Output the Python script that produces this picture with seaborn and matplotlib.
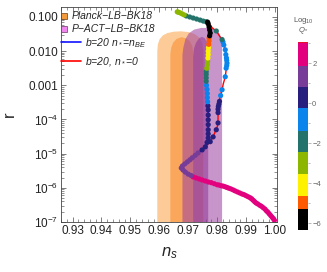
import numpy as np
import matplotlib
matplotlib.use("Agg")
import matplotlib.pyplot as plt
from matplotlib.colors import ListedColormap, BoundaryNorm
from matplotlib.lines import Line2D
import matplotlib.cm as cm
import seaborn as sns

# --- data ---
# contours: (n_s, log10 r) boundaries
planck2_ns = [0.9593, 0.9593, 0.9595, 0.9601, 0.9612, 0.9628, 0.9650, 0.9675, 0.9700, 0.9722, 0.9738, 0.9748, 0.9752, 0.9752]
planck2_lr = [-7.3, -2.00, -1.80, -1.65, -1.54, -1.47, -1.43, -1.42, -1.44, -1.50, -1.60, -1.75, -1.95, -7.3]
planck1_ns = [0.9638, 0.9638, 0.9641, 0.9648, 0.9660, 0.9677, 0.9694, 0.9706, 0.9714, 0.9717, 0.9717]
planck1_lr = [-7.3, -2.10, -1.90, -1.75, -1.64, -1.59, -1.63, -1.72, -1.85, -2.05, -7.3]
pact2_ns = [0.9680, 0.9680, 0.9683, 0.9690, 0.9702, 0.9720, 0.9745, 0.9770, 0.9790, 0.9805, 0.9814, 0.9817, 0.9817]
pact2_lr = [-7.3, -2.10, -1.90, -1.65, -1.48, -1.37, -1.32, -1.32, -1.36, -1.45, -1.60, -1.85, -7.3]
pact1_ns = [0.9717, 0.9717, 0.9720, 0.9727, 0.9737, 0.9747, 0.9757, 0.9764, 0.9768, 0.9769, 0.9769]
pact1_lr = [-7.3, -2.15, -1.92, -1.75, -1.63, -1.58, -1.62, -1.72, -1.88, -2.10, -7.3]

# b=20, n*=n_BE  (points along the curve, bottom to top)
be_ns = [0.9998, 0.9994, 0.9990, 0.9985, 0.9980, 0.9975, 0.9970, 0.9965, 0.9959, 0.9953,
         0.9947, 0.9940, 0.9934, 0.9929, 0.9924, 0.9919, 0.9914, 0.9907, 0.9900, 0.9893,
         0.9886, 0.9878, 0.9870, 0.9862, 0.9855, 0.9847, 0.9840, 0.9834, 0.9828, 0.9821,
         0.9814, 0.9807, 0.9800, 0.9790, 0.9780, 0.9770, 0.9759, 0.9748, 0.9738, 0.9727,
         0.9717, 0.9710, 0.9700, 0.9690, 0.9682, 0.9676, 0.9680, 0.9688, 0.9697, 0.9706,
         0.9714, 0.9724, 0.9734, 0.9748, 0.9759, 0.9765, 0.9769, 0.9769, 0.9769, 0.9769,
         0.9769, 0.9769, 0.9769, 0.9768, 0.9767, 0.9766, 0.9766, 0.9765, 0.9763, 0.9762,
         0.9762, 0.9762, 0.9762, 0.9764, 0.9766, 0.9767, 0.9768, 0.9769, 0.9769, 0.9770,
         0.9771, 0.9772, 0.9772, 0.9774, 0.9776, 0.9774, 0.9772, 0.9769, 0.9767]
be_lr = [-6.95, -6.90, -6.86, -6.81, -6.76, -6.71, -6.67, -6.62, -6.58, -6.54,
         -6.51, -6.47, -6.44, -6.40, -6.36, -6.32, -6.29, -6.26, -6.23, -6.20,
         -6.18, -6.15, -6.12, -6.09, -6.06, -6.03, -6.01, -5.99, -5.97, -5.95,
         -5.94, -5.92, -5.91, -5.88, -5.85, -5.83, -5.80, -5.77, -5.74, -5.71,
         -5.68, -5.64, -5.60, -5.54, -5.48, -5.42, -5.36, -5.30, -5.24, -5.18,
         -5.12, -5.05, -4.98, -4.89, -4.80, -4.67, -4.54, -4.42, -4.30, -4.15,
         -4.01, -3.87, -3.72, -3.60, -3.48, -3.36, -3.24, -3.12, -3.00, -2.88,
         -2.78, -2.68, -2.60, -2.50, -2.40, -2.30, -2.20, -2.10, -2.00, -1.90,
         -1.80, -1.70, -1.62, -1.55, -1.47, -1.38, -1.29, -1.20, -1.15]
be_logq = [2.96, 2.94, 2.92, 2.9, 2.87, 2.85, 2.82, 2.8, 2.77, 2.75,
           2.72, 2.7, 2.67, 2.65, 2.62, 2.6, 2.57, 2.55, 2.52, 2.5,
           2.47, 2.45, 2.42, 2.4, 2.37, 2.35, 2.32, 2.3, 2.27, 2.25,
           2.22, 2.2, 2.17, 2.15, 2.12, 2.1, 2.07, 2.05, 2.02, 2.0,
           1.96, 1.85, 1.75, 1.65, 1.55, 1.45, 1.35, 1.25, 1.1, 1.0,
           0.95, 0.9, 0.85, 0.75, 0.7, 0.6, 0.5, 0.42, 0.35, 0.22,
           0.12, 0.0, -0.1, -0.2, -0.35, -0.55, -0.75, -0.95, -1.2, -1.45,
           -1.75, -2.0, -2.3, -2.6, -2.9, -3.2, -3.65, -3.9, -4.15, -4.4,
           -4.75, -5.0, -5.2, -5.4, -5.6, -5.8, -6.0, -6.1, -6.2]

# b=20, n*=0  (line, bottom part shared with the curve above)
n0_line_ns = [0.9998, 0.9959, 0.9914, 0.9855, 0.9800, 0.9759, 0.9717, 0.9693, 0.9676, 0.9693,
              0.9714, 0.9734, 0.9759, 0.9776, 0.9786, 0.9793, 0.9800, 0.9803, 0.9803, 0.9803,
              0.9807, 0.9810, 0.9817, 0.9821, 0.9828, 0.9831, 0.9834, 0.9831, 0.9828, 0.9821,
              0.9810, 0.9797, 0.9783, 0.9776, 0.9766, 0.9741, 0.9717, 0.9693, 0.9672, 0.9662]
n0_line_lr = [-6.95, -6.58, -6.29, -6.06, -5.91, -5.80, -5.68, -5.56, -5.42, -5.27,
              -5.12, -4.98, -4.80, -4.65, -4.51, -4.36, -4.22, -4.10, -3.89, -3.66,
              -3.49, -3.34, -3.13, -2.96, -2.75, -2.55, -2.35, -2.14, -1.96, -1.76,
              -1.58, -1.41, -1.32, -1.23, -1.15, -1.09, -1.03, -0.97, -0.88, -0.85]
n0_pt_ns = [0.9776, 0.9786, 0.9797, 0.9803, 0.9803, 0.9803, 0.9804, 0.9806, 0.9808, 0.9812,
            0.9817, 0.9828, 0.9831, 0.9833, 0.9834, 0.9833, 0.9832, 0.9830, 0.9828, 0.9823,
            0.9820, 0.9817, 0.9797, 0.9762, 0.9752, 0.9741, 0.9729, 0.9717, 0.9705, 0.9693,
            0.9686, 0.9679, 0.9672, 0.9666, 0.9662]
n0_pt_lr = [-4.65, -4.51, -4.30, -4.10, -3.80, -3.70, -3.62, -3.55, -3.47, -3.30,
            -3.13, -2.75, -2.50, -2.42, -2.35, -2.27, -2.20, -2.10, -1.96, -1.82,
            -1.73, -1.66, -1.41, -1.14, -1.12, -1.09, -1.06, -1.03, -1.00, -0.97,
            -0.94, -0.91, -0.88, -0.86, -0.85]
n0_pt_logq = [0.6, 0.5, 0.35, 0.2, 0.0, -0.05, -0.1, -0.15, -0.2, -0.4,
              -0.6, -0.8, -0.9, -0.95, -1.0, -1.05, -1.1, -1.15, -1.2, -1.25,
              -1.3, -1.5, -1.7, -1.9, -1.95, -2.0, -2.05, -2.1, -2.2, -2.3,
              -2.6, -2.8, -3.0, -3.2, -3.3]

# colour bar for log10 Q*
q_bounds = [-6.35, -5.3, -4.63, -3.53, -2.47, -1.37, -0.25, 0.8, 1.88, 3.0, 3.06]
q_colors = ["#000000", "#FF5A00", "#FFF200", "#8DB600", "#23736B", "#0B85EC",
            "#281E7D", "#773C98", "#E2007E", "#E8102A"]
cbar_ticks = [2, 0, -2, -4, -6]
cbar_labels = ["2", "0", "\u22122", "\u22124", "\u22126"]

xticks = [0.93, 0.94, 0.95, 0.96, 0.97, 0.98, 0.99, 1.00]
xtick_labels = ["0.93", "0.94", "0.95", "0.96", "0.97", "0.98", "0.99", "1.00"]
yticks = [1e-7, 1e-6, 1e-5, 1e-4, 1e-3, 1e-2, 1e-1]
ytick_labels = ["$10^{-7}$", "$10^{-6}$", "$10^{-5}$", "$10^{-4}$", "0.001", "0.010", "0.100"]

# --- style ---
sns.set_style("ticks")
plt.rcParams['font.family'] = ['Liberation Sans', 'DejaVu Sans']
plt.rcParams['mathtext.fontset'] = 'custom'
plt.rcParams['mathtext.rm'] = 'Liberation Sans'
plt.rcParams['mathtext.it'] = 'Liberation Sans:italic'

fig = plt.figure(figsize=(3.27, 2.72), dpi=100)
ax = fig.add_axes([61 / 327, 50 / 272, 216 / 327, 215 / 272])
cax = fig.add_axes([298 / 327, 42 / 272, 10 / 327, 188 / 272])

# contours
ax.fill(planck2_ns, 10 ** np.array(planck2_lr), color="#FDCB98", lw=0, zorder=1)
ax.fill(planck1_ns, 10 ** np.array(planck1_lr), color="#FAA75C", lw=0, zorder=1.1)
ax.fill(pact2_ns, 10 ** np.array(pact2_lr), color=(155 / 255, 62 / 255, 160 / 255), alpha=0.55, lw=0, zorder=1.2)
ax.fill(pact1_ns, 10 ** np.array(pact1_lr), color=(140 / 255, 45 / 255, 145 / 255), alpha=0.5, lw=0, zorder=1.3)

# lines
sns.lineplot(x=n0_line_ns, y=10 ** np.array(n0_line_lr), sort=False, estimator=None,
             color="#FF0000", lw=1.0, ax=ax, zorder=2)
sns.lineplot(x=be_ns, y=10 ** np.array(be_lr), sort=False, estimator=None,
             color="#1010FF", lw=1.0, ax=ax, zorder=2.1)

# points coloured by log10 Q*
cmap = ListedColormap(q_colors)
norm = BoundaryNorm(q_bounds, cmap.N)
sns.scatterplot(x=n0_pt_ns, y=10 ** np.array(n0_pt_lr), hue=n0_pt_logq, palette=cmap,
                hue_norm=norm, s=14, linewidth=0, legend=False, ax=ax, zorder=3)
sns.scatterplot(x=be_ns, y=10 ** np.array(be_lr), hue=be_logq, palette=cmap,
                hue_norm=norm, s=14, linewidth=0, legend=False, ax=ax, zorder=3.1)

ax.set_yscale("log")
ax.set_xlim(0.92621, 1.00069)
ax.set_ylim(1.01e-7, 0.196)
ax.set_xticks(xticks)
ax.set_xticklabels(xtick_labels)
ax.set_xticks(np.arange(0.926, 1.0005, 0.002), minor=True)
ax.set_yticks(yticks)
ax.set_yticklabels(ytick_labels)
ax.tick_params(which="both", direction="in", top=True, right=True, color="#666666",
               labelsize=8.5, labelcolor="#222222", pad=2)
ax.tick_params(which="major", length=3.5, width=0.6)
ax.tick_params(which="minor", length=2, width=0.5)
for sp in ax.spines.values():
    sp.set_linewidth(0.6)
    sp.set_color("#444444")
ax.set_xlabel("$n_s$", fontsize=12, labelpad=6)
ax.set_ylabel("r", fontsize=12, labelpad=8)

# legends
sq = [Line2D([], [], ls="none", marker="s", ms=5, mfc="#F39A3C", mec="#6a3a10", mew=0.5),
      Line2D([], [], ls="none", marker="s", ms=5, mfc="#EE88EE", mec="#6a3a6a", mew=0.5)]
leg1 = ax.legend(sq, ["Planck\u2212LB\u2212BK18", "P\u2212ACT\u2212LB\u2212BK18"], loc="upper left",
                 bbox_to_anchor=(-0.005, 0.985), frameon=False, handlelength=0.6,
                 handletextpad=0.4, labelspacing=0.3, borderpad=0.1, borderaxespad=0,
                 prop={"style": "italic", "size": 7.5})
ax.add_artist(leg1)
ln = [Line2D([], [], color="#1010FF", lw=1.2), Line2D([], [], color="#FF0000", lw=1.2)]
ax.legend(ln, ["b=20 n$_*$=n$_{BE}$", "b=20, n$_*$=0"], loc="upper left",
          bbox_to_anchor=(-0.005, 0.87), frameon=False, handlelength=1.9,
          handletextpad=0.4, labelspacing=0.5, borderpad=0.1, borderaxespad=0,
          prop={"style": "italic", "size": 7.5})

# colour bar
cb = fig.colorbar(cm.ScalarMappable(norm=norm, cmap=cmap), cax=cax, spacing="proportional")
cb.outline.set_visible(False)
cb.set_ticks(cbar_ticks)
cb.set_ticklabels(cbar_labels)
cax.set_yticks([3, 1, -1, -3, -5], minor=True)
cax.tick_params(which="both", direction="out", color="#999999", labelsize=5.5,
                labelcolor="#666666", length=2, width=0.5, pad=1)
cax.tick_params(which="minor", length=1.5)
fig.text(303 / 327, 1 - 21 / 272, "Log$_{10}$", ha="center", va="center", fontsize=5.5, color="#555555")
fig.text(303 / 327, 1 - 31 / 272, "$Q_*$", ha="center", va="center", fontsize=5.5, color="#555555")

fig.savefig("out.png", dpi=100)
